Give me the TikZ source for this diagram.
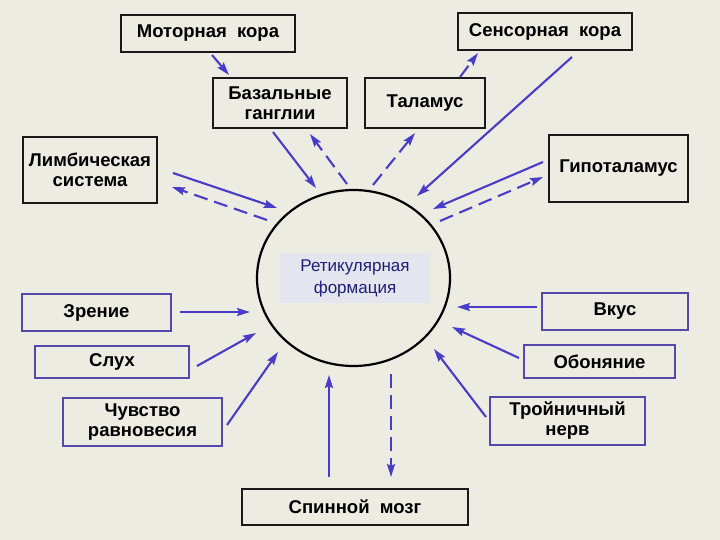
\documentclass[tikz,border=0pt]{standalone}
\usepackage{fontspec}
\setmainfont{Liberation Sans}
\usetikzlibrary{arrows.meta,calc,shapes.geometric}
\definecolor{bgc}{RGB}{236,236,226}
\definecolor{arr}{RGB}{72,60,200}
\definecolor{boxb}{RGB}{25,25,25}
\definecolor{boxp}{RGB}{84,72,172}
\definecolor{rffill}{RGB}{228,229,238}
\definecolor{rftext}{RGB}{30,30,120}
\tikzset{
  lbl/.style={align=center,font=\bfseries\fontsize{18.5}{20}\selectfont,inner sep=0pt},
  bbox/.style={lbl,draw=boxb,line width=2.2pt,rectangle},
  pbox/.style={lbl,draw=boxp,line width=2.2pt,rectangle},
  con/.style={draw=arr,line width=2.1pt,-{Stealth[length=13pt,width=8pt,inset=2pt]},arr},
  dcon/.style={con,dash pattern=on 14pt off 7pt},
}
\begin{document}
\begin{tikzpicture}[x=1pt,y=-1pt]
\fill[bgc] (0,0) rectangle (720,540);
\useasboundingbox (0,0) rectangle (720,540);
% central formation
\node[draw=black,line width=2.2pt,ellipse,minimum width=193,minimum height=176,inner sep=0pt] (rf) at (353.5,278) {};
\node[fill=rffill,minimum width=150,minimum height=50,inner sep=0pt,align=center,text=rftext,font=\fontsize{17}{22}\selectfont] (rft) at (355,278) {Ретикулярная\\формация};
% upper boxes
\node[bbox,minimum width=174,minimum height=37] (motor) at (208,33.5) {Моторная\ \ кора};
\node[bbox,minimum width=134,minimum height=50] (bg) at (280,103) {Базальные\\ганглии};
\node[bbox,minimum width=134,minimum height=66] (lim) at (90,170) {Лимбическая\\система};
\node[bbox,minimum width=174,minimum height=37] (sens) at (545,31.5) {Сенсорная\ \ кора};
\node[bbox,minimum width=120,minimum height=50] (thal) at (425,103) {Таламус};
\node[bbox,minimum width=139,minimum height=67] (hypo) at (618.5,168.5) {Гипоталамус};
\node[bbox,minimum width=226,minimum height=36] (sp) at (355,507) {Спинной\ \ мозг};
% sensory boxes
\node[pbox,minimum width=149,minimum height=37] (zr) at (96.5,312.5) {Зрение};
\node[pbox,minimum width=154,minimum height=32] (sl) at (112,362) {Слух};
\node[pbox,minimum width=159,minimum height=48] (ch) at (142.5,422) {Чувство\\равновесия};
\node[pbox,minimum width=146,minimum height=37] (vk) at (615,311.5) {Вкус};
\node[pbox,minimum width=151,minimum height=33] (ob) at (599.5,361.5) {Обоняние};
\node[pbox,minimum width=155,minimum height=48] (tr) at (567.5,421) {Тройничный\\нерв};
% connectors
\draw[con] ($(motor.center)+(4,21.5)$) -- ($(bg.center)+(-51,-28)$);
\draw[con] ($(bg.center)+(-7,29)$) -- ($(rf.center)+(-37.5,-90)$);
\draw[dcon] ($(rf.center)+(-6.5,-94)$) -- ($(bg.center)+(30,31)$);
\draw[con] ($(lim.center)+(83,3)$) -- ($(rf.center)+(-76.5,-70)$);
\draw[dcon] ($(rf.center)+(-86.5,-58)$) -- ($(lim.center)+(82,17)$);
\draw[dcon] ($(rf.center)+(19.5,-93)$) -- ($(thal.center)+(-10,30)$);
\draw[dcon] ($(thal.center)+(35,-26)$) -- ($(sens.center)+(-67,21.5)$);
\draw[con] ($(sens.center)+(27,25.5)$) -- ($(rf.center)+(63.5,-82)$);
\draw[con] ($(hypo.center)+(-75.5,-6.5)$) -- ($(rf.center)+(79.5,-69)$);
\draw[dcon] ($(rf.center)+(86.5,-57)$) -- ($(hypo.center)+(-75.5,8.5)$);
\draw[con] ($(zr.center)+(83.5,-0.5)$) -- ($(rf.center)+(-103.5,34)$);
\draw[con] ($(sl.center)+(85,4)$) -- ($(rf.center)+(-97.5,55)$);
\draw[con] ($(ch.center)+(84.5,3)$) -- ($(rf.center)+(-75.5,74)$);
\draw[con] ($(sp.center)+(-26,-30)$) -- ($(rf.center)+(-24.5,97)$);
\draw[dcon] ($(rf.center)+(37.5,96)$) -- ($(sp.center)+(36,-30)$);
\draw[con] ($(vk.center)+(-78,-4.5)$) -- ($(rf.center)+(103.5,29)$);
\draw[con] ($(ob.center)+(-80.5,-3.5)$) -- ($(rf.center)+(98.5,49)$);
\draw[con] ($(tr.center)+(-81.5,-4)$) -- ($(rf.center)+(80.5,71)$);
\end{tikzpicture}
\end{document}
